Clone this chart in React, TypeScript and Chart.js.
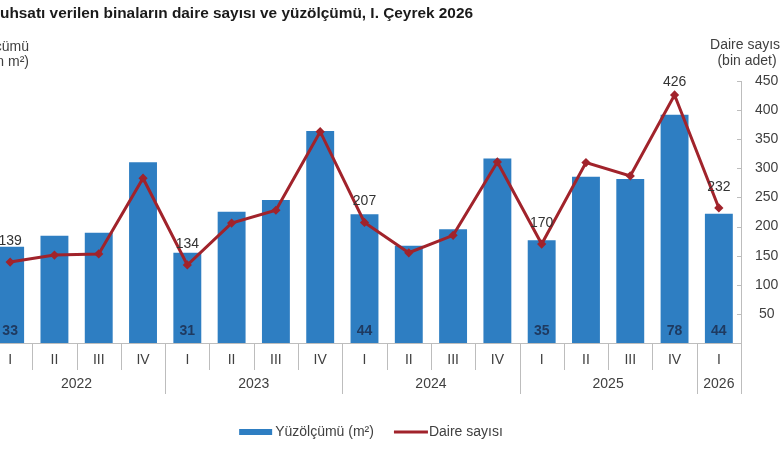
import { useEffect, useRef } from 'react';
import { Chart, registerables } from 'chart.js';

Chart.register(...registerables);

// quarter / year categories
const quarters = ['I', 'II', 'III', 'IV', 'I', 'II', 'III', 'IV', 'I', 'II', 'III', 'IV', 'I', 'II', 'III', 'IV', 'I'];
const years = ['2022', '2023', '2024', '2025', '2026'];
const yearSpans = [4, 4, 4, 4, 1];

// Yüzölçümü (milyon m²), left axis
const areaValues = [33.1, 36.8, 37.9, 62.1, 31.0, 45.1, 49.1, 72.8, 44.2, 33.4, 39.1, 63.4, 35.3, 57.1, 56.3, 78.4, 44.4];
// Daire sayısı (bin adet), right axis
const dwellingValues = [139, 151, 153, 283, 134, 206, 228, 363, 207, 155, 185, 311, 170, 310, 287, 426, 232];
// points that carry a value label
const labelledPoints = [0, 4, 8, 12, 15, 16];

const leftMax = 90;
const rightMax = 450;

const FONT = '"Liberation Sans", Arial, sans-serif';
const BLUE = '#2E7EC2';
const RED = '#A1232B';
const AXIS = '#BDBDBD';
const TEXT = '#404040';

const decorations = {
    id: 'decorations',
    afterDraw(chart: any) {
        const { ctx, chartArea, scales } = chart;
        const x = scales.x;
        const yR = scales.yR;
        ctx.save();

        // title (left part is cropped off the picture)
        ctx.font = `bold 15.4px ${FONT}`;
        ctx.fillStyle = '#1a1a1a';
        ctx.textBaseline = 'middle';
        ctx.textAlign = 'left';
        const hidden = ctx.measureText('Yapı r').width;
        ctx.fillText('Yapı ruhsatı verilen binaların daire sayısı ve yüzölçümü, I. Çeyrek 2026', 59 - hidden, 14);

        // axis titles
        ctx.font = `14px ${FONT}`;
        ctx.fillStyle = TEXT;
        ctx.textAlign = 'right';
        ctx.fillText('Yüzölçümü', 88, 47);
        ctx.fillText('(milyon m²)', 88, 62);
        ctx.textAlign = 'center';
        ctx.fillText('Daire sayısı', chartArea.right + 6, 45);
        ctx.fillText('(bin adet)', chartArea.right + 6, 61);

        // inward ticks on right axis
        ctx.strokeStyle = AXIS;
        ctx.lineWidth = 1;
        yR.ticks.forEach((t: any) => {
            const py = Math.round(yR.getPixelForValue(t.value)) + 0.5;
            ctx.beginPath();
            ctx.moveTo(chartArea.right - 4, py);
            ctx.lineTo(chartArea.right, py);
            ctx.stroke();
        });

        // category separators and labels
        const n = quarters.length;
        const catW = (chartArea.right - chartArea.left) / n;
        const bottom = chartArea.bottom;
        const yearEnds = new Set<number>();
        let acc = 0;
        yearSpans.forEach((s) => {
            yearEnds.add(acc);
            acc += s;
            yearEnds.add(acc);
        });
        for (let i = 0; i <= n; i++) {
            const px = Math.round(chartArea.left + i * catW) + 0.5;
            ctx.beginPath();
            ctx.moveTo(px, bottom);
            ctx.lineTo(px, yearEnds.has(i) ? bottom + 51 : bottom + 27);
            ctx.stroke();
        }
        ctx.fillStyle = TEXT;
        ctx.textAlign = 'center';
        quarters.forEach((q, i) => {
            ctx.fillText(q, x.getPixelForValue(i), bottom + 17);
        });
        acc = 0;
        years.forEach((yr, k) => {
            const x0 = chartArea.left + acc * catW;
            acc += yearSpans[k];
            const x1 = chartArea.left + acc * catW;
            ctx.fillText(yr, (x0 + x1) / 2, bottom + 41);
        });

        // value labels
        labelledPoints.forEach((i) => {
            const px = x.getPixelForValue(i);
            ctx.font = `bold 14px ${FONT}`;
            ctx.fillStyle = '#1F3A60';
            ctx.fillText(String(Math.round(areaValues[i])), px, bottom - 12);
            ctx.font = `14px ${FONT}`;
            ctx.fillStyle = '#333333';
            const ly = Math.max(yR.getPixelForValue(dwellingValues[i]) - 21, chartArea.top + 1);
            ctx.fillText(String(dwellingValues[i]), px, ly);
        });

        // legend
        ctx.font = `14px ${FONT}`;
        const t1 = 'Yüzölçümü (m²)';
        const t2 = 'Daire sayısı';
        const w1 = ctx.measureText(t1).width;
        const w2 = ctx.measureText(t2).width;
        const total = 33 + 3 + w1 + 20 + 34 + 1 + w2;
        let lx = chart.width / 2 - total / 2;
        const ly = 432;
        ctx.fillStyle = BLUE;
        ctx.fillRect(lx, ly - 3, 33, 6);
        lx += 36;
        ctx.fillStyle = TEXT;
        ctx.textAlign = 'left';
        ctx.fillText(t1, lx, ly);
        lx += w1 + 20;
        ctx.strokeStyle = RED;
        ctx.lineWidth = 3;
        ctx.beginPath();
        ctx.moveTo(lx, ly);
        ctx.lineTo(lx + 34, ly);
        ctx.stroke();
        lx += 35;
        ctx.fillText(t2, lx, ly);

        ctx.restore();
    },
};

function BuildingPermitsChart() {
    const chartRef = useRef<HTMLCanvasElement | null>(null);
    const chartInstanceRef = useRef<Chart | null>(null);

    useEffect(() => {
        if (!chartRef.current) return;
        const ctx = chartRef.current.getContext('2d');
        if (!ctx) return;

        chartInstanceRef.current = new Chart(ctx, {
            type: 'bar',
            data: {
                labels: quarters,
                datasets: [
                    {
                        type: 'line',
                        label: 'Daire sayısı',
                        data: dwellingValues,
                        yAxisID: 'yR',
                        borderColor: RED,
                        backgroundColor: RED,
                        borderWidth: 3,
                        pointStyle: 'rectRot',
                        pointRadius: 2.5,
                        tension: 0,
                        order: 0,
                    } as any,
                    {
                        type: 'bar',
                        label: 'Yüzölçümü (m²)',
                        data: areaValues,
                        yAxisID: 'yL',
                        backgroundColor: BLUE,
                        barPercentage: 0.63,
                        categoryPercentage: 1,
                        order: 1,
                    },
                ],
            },
            options: {
                animation: false,
                responsive: false,
                layout: { padding: { top: 81, left: 0, right: 0, bottom: 0 } },
                plugins: {
                    legend: { display: false },
                    tooltip: { enabled: false },
                },
                scales: {
                    x: {
                        type: 'category',
                        offset: true,
                        grid: { display: false },
                        ticks: { display: false },
                        border: { color: AXIS },
                        afterFit: (s: any) => {
                            s.height = 127;
                        },
                    },
                    yL: {
                        position: 'left',
                        min: 0,
                        max: leftMax,
                        grid: { display: false },
                        border: { color: AXIS },
                        ticks: { stepSize: 10, color: TEXT, font: { family: FONT, size: 14 } },
                        afterFit: (s: any) => {
                            s.width = 47;
                        },
                    },
                    yR: {
                        position: 'right',
                        min: 0,
                        max: rightMax,
                        grid: { display: false },
                        border: { color: AXIS },
                        ticks: {
                            stepSize: 50,
                            color: TEXT,
                            padding: 6,
                            crossAlign: 'center',
                            font: { family: FONT, size: 14 },
                            callback: (v: any) => (v === 0 ? '' : v),
                        },
                        afterFit: (s: any) => {
                            s.width = 60;
                        },
                    },
                },
            },
            plugins: [decorations],
        });

        return () => {
            if (chartInstanceRef.current) {
                chartInstanceRef.current.destroy();
                chartInstanceRef.current = null;
            }
        };
    }, []);

    // the reference picture is cropped on both sides, so the canvas is wider than the window
    return (
        <div style={{ position: 'fixed', left: 0, top: 0, width: 780, height: 470, overflow: 'hidden', background: '#fff' }}>
            <canvas
                ref={chartRef}
                width={860}
                height={470}
                style={{ position: 'absolute', left: -59, top: 0, width: 860, height: 470 }}
            ></canvas>
        </div>
    );
}

export default function App() {
    return <BuildingPermitsChart />;
}
